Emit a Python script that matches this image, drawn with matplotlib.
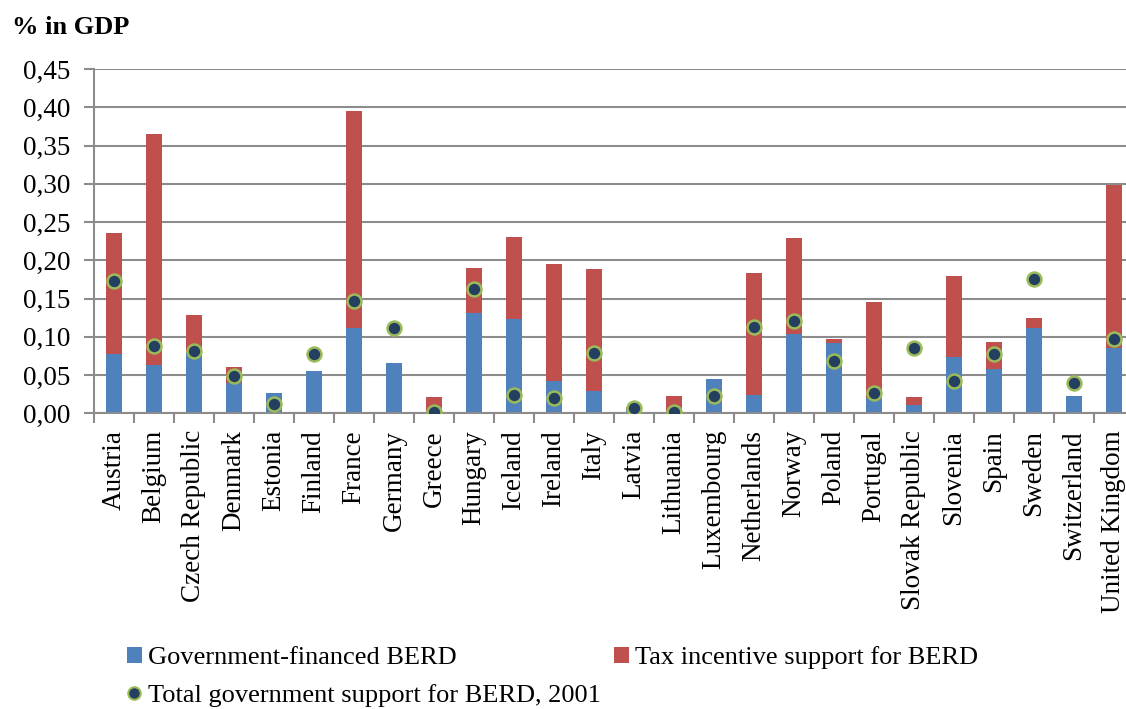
import numpy as np
import matplotlib
matplotlib.use('Agg')
import matplotlib.pyplot as plt
from matplotlib.lines import Line2D
from matplotlib.patches import Patch

countries = ['Austria', 'Belgium', 'Czech Republic', 'Denmark', 'Estonia', 'Finland', 'France',
             'Germany', 'Greece', 'Hungary', 'Iceland', 'Ireland', 'Italy', 'Latvia', 'Lithuania',
             'Luxembourg', 'Netherlands', 'Norway', 'Poland', 'Portugal', 'Slovak Republic',
             'Slovenia', 'Spain', 'Sweden', 'Switzerland', 'United Kingdom']

# government-financed BERD (% of GDP)
gov_berd = [0.078, 0.063, 0.080, 0.039, 0.026, 0.055, 0.111,
            0.066, 0.003, 0.131, 0.123, 0.042, 0.029, 0.005, 0.002,
            0.045, 0.024, 0.103, 0.092, 0.020, 0.011,
            0.073, 0.058, 0.112, 0.022, 0.086]
# tax incentive support for BERD (% of GDP)
tax_berd = [0.158, 0.302, 0.048, 0.021, 0.000, 0.000, 0.284,
            0.000, 0.018, 0.059, 0.107, 0.153, 0.159, 0.003, 0.021,
            0.000, 0.160, 0.126, 0.005, 0.125, 0.010,
            0.107, 0.035, 0.012, 0.000, 0.212]
# total government support for BERD, 2001
total_2001 = [0.173, 0.088, 0.081, 0.049, 0.012, 0.078, 0.147,
              0.112, 0.002, 0.162, 0.024, 0.020, 0.079, 0.007, 0.002,
              0.023, 0.113, 0.121, 0.068, 0.027, 0.086,
              0.042, 0.077, 0.175, 0.039, 0.097]

plt.rcParams['font.family'] = ['Liberation Serif', 'DejaVu Serif']
plt.rcParams['font.size'] = 19.5

blue = '#4F81BD'
red = '#C0504D'
grid_c = '#8C8C8C'

fig = plt.figure(figsize=(11.26, 7.09), dpi=100)
ax = fig.add_axes([94/1126, 1-413.3/709, 1040/1126, 344.3/709])

x = np.arange(len(countries))
ax.bar(x, gov_berd, width=0.4, color=blue, zorder=2)
ax.bar(x, tax_berd, width=0.4, bottom=gov_berd, color=red, zorder=2)
ax.plot(x, total_2001, linestyle='none', marker='o', markersize=10,
        markerfacecolor='#243F60', markeredgecolor='#9BBB59', markeredgewidth=1.8, zorder=3)

ax.set_xlim(-0.5, len(countries)-0.5)
ax.set_ylim(0, 0.45)
ax.set_yticks(np.arange(0, 0.451, 0.05))
ax.set_yticklabels([('%.2f' % v).replace('.', ',') for v in np.arange(0, 0.451, 0.05)])
ax.yaxis.grid(True, color=grid_c, linewidth=1.5, zorder=0)
ax.set_axisbelow(True)

ax.set_xticks(np.arange(-0.5, len(countries), 1.0))
ax.set_xticklabels([])
ax.set_xticks(x, minor=True)
ax.set_xticklabels(countries, minor=True, rotation=90)
ax.tick_params(axis='x', which='major', length=7, width=1.5, color=grid_c, direction='out')
ax.tick_params(axis='x', which='minor', length=0, pad=12)
ax.tick_params(axis='y', length=7, width=1.5, color=grid_c, direction='out', pad=10)

for s in ['top', 'right']:
    ax.spines[s].set_visible(False)
for s in ['left', 'bottom']:
    ax.spines[s].set_color(grid_c)
    ax.spines[s].set_linewidth(1.5)

fig.text(12/1126, 1-28/709, '% in GDP', fontweight='bold', fontsize=19, va='center', ha='left')

handles = [Patch(facecolor=blue, label='Government-financed BERD'),
           Line2D([], [], linestyle='none', marker='o', markersize=9,
                  markerfacecolor='#243F60', markeredgecolor='#9BBB59', markeredgewidth=1.5,
                  label='Total government support for BERD, 2001'),
           Patch(facecolor=red, label='Tax incentive support for BERD')]
fig.legend(handles=handles, ncol=2, loc='upper left', bbox_to_anchor=(114/1126, 1-633/709),
           frameon=False, borderpad=0, handlelength=0.55, handleheight=0.55, handletextpad=0.25,
           columnspacing=0.5, labelspacing=0.55, fontsize=19)

fig.savefig('out.png', dpi=100)
